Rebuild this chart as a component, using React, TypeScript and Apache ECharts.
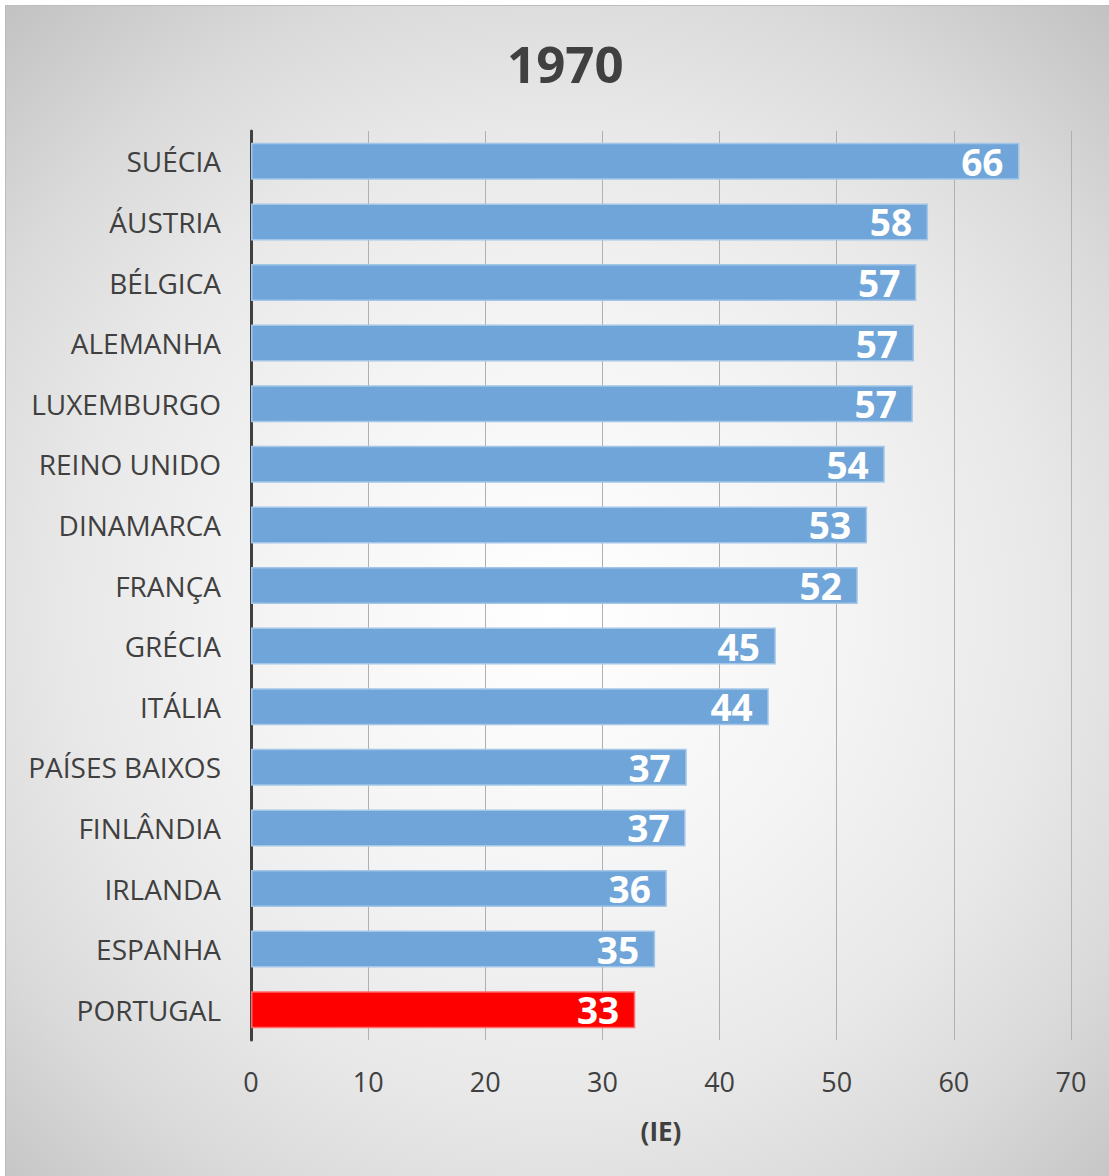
import React, { useEffect, useRef } from "react";
import * as echarts from "echarts";

const categories = [
  "SUÉCIA", "ÁUSTRIA", "BÉLGICA", "ALEMANHA", "LUXEMBURGO", "REINO UNIDO", "DINAMARCA",
  "FRANÇA", "GRÉCIA", "ITÁLIA", "PAÍSES BAIXOS", "FINLÂNDIA", "IRLANDA", "ESPANHA", "PORTUGAL",
];
const values = [65.6, 57.8, 56.8, 56.6, 56.5, 54.1, 52.6, 51.8, 44.8, 44.2, 37.2, 37.1, 35.5, 34.5, 32.8];
const highlight = "PORTUGAL";
const xTicks = { min: 0, max: 70, interval: 10 };
const titleText = "1970";
const axisName = "(IE)";

const FONT = "'Open Sans', 'Noto Sans', sans-serif";

export default function App() {
  const ref = useRef<HTMLDivElement>(null);
  useEffect(() => {
    if (!ref.current) return;
    const chart = echarts.init(ref.current, null, { renderer: "svg" });
    chart.setOption({
      animation: false,
      backgroundColor: "transparent",
      textStyle: { fontFamily: FONT },
      title: {
        text: titleText,
        left: 502,
        top: 32,
        textStyle: { fontSize: 51, fontWeight: "bold", color: "#404040", fontFamily: FONT },
      },
      grid: { left: 251, right: 38, top: 131, bottom: 136, containLabel: false },
      xAxis: {
        type: "value",
        min: xTicks.min,
        max: xTicks.max,
        interval: xTicks.interval,
        axisLine: { show: false },
        axisTick: { show: false },
        splitLine: { show: true, lineStyle: { color: "#b0b0b0", width: 1 } },
        axisLabel: { fontSize: 27, color: "#404040", margin: 28, fontFamily: FONT },
        name: axisName,
        nameLocation: "middle",
        nameGap: 78,
        nameTextStyle: { fontSize: 26, fontWeight: "bold", color: "#404040", fontFamily: FONT },
      },
      yAxis: {
        type: "category",
        inverse: true,
        data: categories,
        axisLine: { show: true, lineStyle: { color: "#404040", width: 3 } },
        axisTick: { show: false },
        axisLabel: { fontSize: 28, color: "#404040", margin: 30, fontFamily: FONT, padding: [0, 0, 3, 0] },
      },
      series: [
        {
          type: "bar",
          barWidth: 37,
          data: values.map((v, i) => {
            const isHi = categories[i] === highlight;
            return {
              value: v,
              itemStyle: {
                color: isHi ? "#ff0000" : "#6fa5d8",
                borderColor: isHi ? "#ff6a6a" : "#a3c6e8",
                borderWidth: 1.5,
              },
            };
          }),
          label: {
            show: true,
            position: "insideRight",
            distance: 16,
            color: "#ffffff",
            fontSize: 37,
            fontWeight: "bold",
            fontFamily: FONT,
            formatter: (p: any) => String(Math.round(p.value)),
          },
        },
      ],
    });
    return () => chart.dispose();
  }, []);

  return (
    <div style={{ position: "absolute", left: 0, top: 0, width: 1109, height: 1176, background: "#ffffff" }}>
      <div
        style={{
          position: "absolute",
          left: 5,
          top: 5,
          right: 0,
          bottom: 0,
          borderTop: "1px solid #bdbdbd",
          borderLeft: "1px solid #bdbdbd",
          boxSizing: "border-box",
          background:
            "radial-gradient(circle farthest-corner at 50% 52%, #ffffff 0%, #f4f4f4 35%, #e8e8e8 60%, #dadada 78%, #c2c2c2 100%)",
        }}
      />
      <div ref={ref} style={{ position: "absolute", left: 0, top: 0, width: 1109, height: 1176 }} />
    </div>
  );
}
